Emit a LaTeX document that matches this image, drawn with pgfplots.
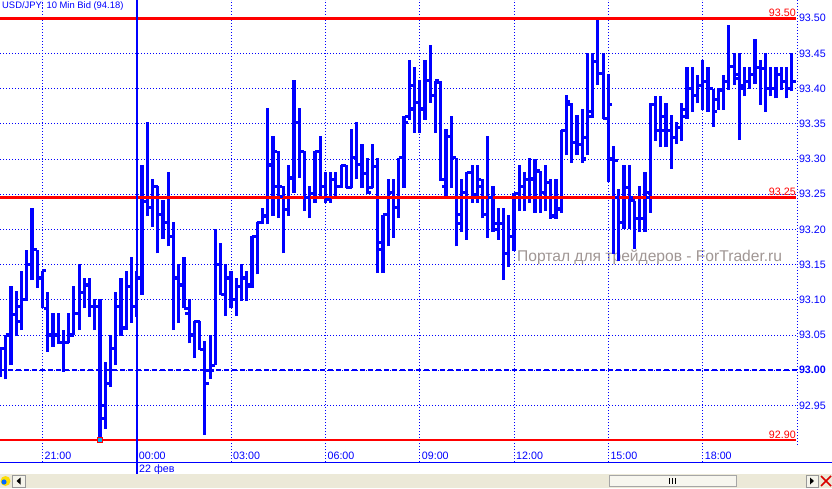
\documentclass[border=0pt]{standalone}
\usepackage{fontspec}
\setmainfont{Liberation Sans}
\usepackage{pgfplots}
\usepackage{pgfplotstable}
\pgfplotsset{compat=1.18}
\definecolor{cblue}{RGB}{0,0,255}
\definecolor{cred}{RGB}{255,0,0}
\definecolor{cwm}{RGB}{160,150,148}
\definecolor{xpgray}{RGB}{236,233,216}

% open tick (left) and close tick (right) of an OHLC bar
\pgfdeclareplotmark{otick}{\pgfpathmoveto{\pgfqpoint{-3.9pt}{0pt}}\pgfpathlineto{\pgfqpoint{0pt}{0pt}}\pgfusepathqstroke}
\pgfdeclareplotmark{ctick}{\pgfpathmoveto{\pgfqpoint{0pt}{0pt}}\pgfpathlineto{\pgfqpoint{3.9pt}{0pt}}\pgfusepathqstroke}

% 10 min bars, k = bar number (k=8 is 21:00, k=26 is 00:00)
\pgfplotstableread{
k o h l c
0 93.015 93.031 92.990 93.031
1 93.031 93.050 92.987 93.050
2 93.050 93.119 93.007 93.079
3 93.079 93.112 93.048 93.090
4 93.069 93.141 93.057 93.100
5 93.100 93.171 93.098 93.150
6 93.150 93.231 93.128 93.171
7 93.171 93.171 93.117 93.131
8 93.131 93.141 93.088 93.141
9 93.088 93.111 93.026 93.050
10 93.050 93.081 93.033 93.050
11 93.050 93.081 93.037 93.039
12 93.039 93.057 92.998 93.039
13 93.039 93.081 93.039 93.050
14 93.050 93.119 93.050 93.081
15 93.081 93.151 93.057 93.111
16 93.111 93.131 93.088 93.121
17 93.121 93.131 93.076 93.090
18 93.090 93.101 93.057 93.090
19 93.090 93.101 92.903 92.931
20 92.950 93.012 92.917 92.981
21 92.981 93.050 92.976 93.031
22 93.031 93.111 93.007 93.090
23 93.090 93.131 93.048 93.060
24 93.060 93.141 93.057 93.119
25 93.119 93.161 93.067 93.090
26 93.090 93.141 93.076 93.131
27 93.131 93.292 93.107 93.240
28 93.240 93.352 93.219 93.231
29 93.231 93.272 93.204 93.261
30 93.261 93.261 93.166 93.221
31 93.221 93.242 93.187 93.210
32 93.210 93.282 93.176 93.190
33 93.190 93.210 93.057 93.131
34 93.131 93.151 93.067 93.121
35 93.121 93.161 93.088 93.088
36 93.081 93.101 93.038 93.050
37 93.050 93.070 93.017 93.069
38 93.069 93.070 93.029 93.029
39 93.029 93.041 92.908 92.981
40 93.000 93.050 92.987 93.000
41 93.007 93.201 93.007 93.150
42 93.150 93.181 93.107 93.107
43 93.107 93.151 93.077 93.131
44 93.131 93.141 93.088 93.100
45 93.100 93.131 93.077 93.119
46 93.119 93.151 93.098 93.131
47 93.131 93.141 93.098 93.121
48 93.119 93.190 93.117 93.190
49 93.190 93.210 93.136 93.210
50 93.210 93.231 93.207 93.219
51 93.219 93.372 93.207 93.292
52 93.291 93.332 93.219 93.311
53 93.261 93.311 93.216 93.261
54 93.247 93.261 93.166 93.228
55 93.228 93.291 93.219 93.273
56 93.273 93.412 93.252 93.352
57 93.352 93.372 93.273 93.311
58 93.311 93.311 93.226 93.245
59 93.245 93.261 93.216 93.251
60 93.251 93.311 93.238 93.311
61 93.311 93.332 93.247 93.261
62 93.261 93.281 93.238 93.242
63 93.242 93.281 93.238 93.271
64 93.271 93.281 93.247 93.261
65 93.261 93.291 93.259 93.291
66 93.291 93.291 93.259 93.259
67 93.259 93.342 93.259 93.302
68 93.302 93.352 93.271 93.292
69 93.292 93.322 93.259 93.280
70 93.280 93.302 93.250 93.252
71 93.259 93.322 93.259 93.290
72 93.290 93.302 93.138 93.181
73 93.171 93.221 93.138 93.221
74 93.221 93.271 93.176 93.252
75 93.252 93.271 93.188 93.231
76 93.231 93.302 93.216 93.302
77 93.302 93.361 93.259 93.352
78 93.361 93.441 93.356 93.404
79 93.371 93.431 93.337 93.380
80 93.380 93.412 93.337 93.371
81 93.371 93.441 93.356 93.411
82 93.411 93.462 93.380 93.390
83 93.390 93.411 93.337 93.411
84 93.409 93.411 93.269 93.271
85 93.261 93.342 93.247 93.332
86 93.332 93.361 93.259 93.302
87 93.302 93.302 93.176 93.209
88 93.221 93.271 93.197 93.252
89 93.252 93.281 93.185 93.281
90 93.281 93.291 93.238 93.250
91 93.250 93.291 93.238 93.271
92 93.261 93.271 93.216 93.221
93 93.221 93.332 93.188 93.245
94 93.245 93.261 93.197 93.200
95 93.209 93.231 93.185 93.209
96 93.209 93.231 93.128 93.166
97 93.166 93.221 93.147 93.190
98 93.190 93.252 93.169 93.251
99 93.251 93.291 93.226 93.261
100 93.261 93.281 93.226 93.271
101 93.271 93.302 93.238 93.271
102 93.272 93.300 93.224 93.283
103 93.283 93.283 93.224 93.253
104 93.253 93.291 93.226 93.267
105 93.267 93.272 93.215 93.219
106 93.219 93.272 93.215 93.229
107 93.229 93.341 93.224 93.340
108 93.340 93.391 93.305 93.382
109 93.378 93.380 93.295 93.324
110 93.324 93.362 93.305 93.321
111 93.321 93.371 93.295 93.300
112 93.330 93.450 93.305 93.360
113 93.367 93.450 93.358 93.438
114 93.438 93.500 93.405 93.422
115 93.422 93.450 93.357 93.358
116 93.358 93.421 93.267 93.378
117 93.300 93.319 93.165 93.298
118 93.245 93.257 93.155 93.210
119 93.210 93.291 93.200 93.260
120 93.260 93.291 93.200 93.245
121 93.241 93.241 93.172 93.215
122 93.215 93.262 93.196 93.215
123 93.215 93.281 93.196 93.253
124 93.245 93.380 93.224 93.378
125 93.378 93.390 93.326 93.340
126 93.340 93.390 93.317 93.360
127 93.340 93.380 93.317 93.340
128 93.340 93.362 93.286 93.330
129 93.330 93.352 93.321 93.345
130 93.345 93.380 93.326 93.370
131 93.360 93.431 93.357 93.400
132 93.400 93.431 93.367 93.390
133 93.390 93.419 93.379 93.405
134 93.405 93.441 93.370 93.410
135 93.410 93.431 93.367 93.400
136 93.400 93.400 93.346 93.367
137 93.385 93.400 93.370 93.398
138 93.398 93.419 93.370 93.410
139 93.410 93.490 93.398 93.431
140 93.431 93.450 93.405 93.415
141 93.420 93.450 93.327 93.400
142 93.405 93.431 93.389 93.410
143 93.410 93.431 93.400 93.420
144 93.420 93.470 93.407 93.430
145 93.430 93.441 93.377 93.429
146 93.429 93.450 93.367 93.400
147 93.400 93.431 93.389 93.400
148 93.400 93.431 93.386 93.420
149 93.420 93.431 93.398 93.410
150 93.410 93.431 93.386 93.400
151 93.400 93.450 93.396 93.410
}\bars

\newcommand\lab{\fontsize{10.7pt}{12pt}\selectfont}

\begin{document}
\begin{tikzpicture}
\fill[white] (0pt,0pt) rectangle (832pt,488pt);
\path[use as bounding box] (0pt,0pt) rectangle (832pt,488pt);

% watermark behind the bars
\node[anchor=base west, inner sep=0pt, text=cwm, font=\fontsize{15.6pt}{18pt}\selectfont]
  at (517pt,227pt) {Портал для трейдеров - ForTrader.ru};

\begin{axis}[
    at={(0pt,26pt)}, anchor=south west,
    scale only axis, width=797pt, height=462pt,
    xmin=-0.0954, xmax=152.0,
    ymin=92.8696, ymax=93.5259,
    axis line style={draw=none},
    major tick length=0pt,
    xtick={8,26,44,62,80,98,116,134}, xticklabels={},
    ytick={92.95,93,93.05,93.1,93.15,93.2,93.25,93.3,93.35,93.4,93.45,93.5},
    yticklabels={92.95,{\textbf{93.00}},93.05,93.10,93.15,93.20,93.25,93.30,93.35,93.40,93.45,93.50},
    yticklabel pos=right,
    yticklabel style={anchor=west, inner sep=0pt, xshift=1.8pt, font=\lab, text=cblue},
    grid=major,
    major grid style={cblue, line width=1pt, dash pattern=on 1pt off 2pt},
    clip=false,
]
% high-low
\addplot[cblue, line width=3.2pt, quiver={u=0, v=\thisrow{h}-\thisrow{l}}] table[x=k, y=l] {\bars};
% open and close
\addplot[cblue, only marks, mark=otick, line width=3.1pt] table[x=k, y=o] {\bars};
\addplot[cblue, only marks, mark=ctick, line width=3.1pt] table[x=k, y=c] {\bars};

% levels
\addplot[cred, line width=2.6pt] coordinates {(-0.0954,93.5) (151.8,93.5)};
\addplot[cred, line width=2.6pt] coordinates {(-0.0954,93.245) (151.8,93.245)};
\addplot[cred, line width=2.6pt] coordinates {(-0.0954,92.901) (151.8,92.901)};
\addplot[cblue, line width=2.5pt, dash pattern=on 5pt off 3pt] coordinates {(-0.0954,93.0) (152,93.0)};

% low marker
\addplot[only marks, mark=square*, mark size=2.3pt, mark options={fill=cyan, draw=cred, line width=0.9pt}] coordinates {(19,92.901)};

\node[anchor=base east, inner sep=0pt, text=cred, font=\lab, yshift=1.6pt] at (axis cs:151.8,93.5) {93.50};
\node[anchor=base east, inner sep=0pt, text=cred, font=\lab, yshift=1.8pt] at (axis cs:151.8,93.245) {93.25};
\node[anchor=base east, inner sep=0pt, text=cred, font=\lab, yshift=1.6pt] at (axis cs:151.8,92.901) {92.90};

\draw[cblue, line width=1pt, dash pattern=on 1pt off 2pt] (axis cs:152,93.5259) -- (axis cs:152,92.891);
\end{axis}

% day separator
\draw[cblue, line width=1.1pt] (137pt,488pt) -- (137pt,14pt);
% time axis
\draw[cblue, line width=1.1pt] (0pt,25.5pt) -- (832pt,25.5pt);
\foreach \px/\t in {44.4/21:00, 138.7/00:00, 233/03:00, 327.4/06:00, 421.7/09:00, 516/12:00, 610.3/15:00, 704.7/18:00}
  \node[anchor=base west, inner sep=0pt, text=cblue, font=\lab] at (\px pt,29pt) {\t};
\node[anchor=base west, inner sep=0pt, text=cblue, font=\lab] at (139pt,15.3pt) {22 фев};

% title
\node[anchor=base west, inner sep=0pt, text=cblue, font=\fontsize{9.4pt}{10pt}\selectfont] at (2pt,479.5pt) {USD/JPY: 10 Min Bid (94.18)};

% scroll bar
\fill[xpgray] (0pt,0pt) rectangle (832pt,14pt);
\draw[fill=xpgray!40!white, draw=black!35, line width=0.8pt] (609pt,1.5pt) rectangle (736pt,13pt);
\foreach \gx in {669.5,672.5,675.5}
  \draw[black, line width=1.4pt] (\gx pt,4.5pt) -- (\gx pt,10pt);
\draw[fill=xpgray!50!white, draw=black!40, line width=0.6pt] (12.5pt,1pt) rectangle (25pt,13pt);
\fill[black] (20.5pt,3.5pt) -- (16.5pt,7pt) -- (20.5pt,10.5pt) -- cycle;
\draw[fill=xpgray!50!white, draw=black!40, line width=0.6pt] (806pt,1pt) rectangle (818pt,13pt);
\fill[black] (810pt,3.5pt) -- (814pt,7pt) -- (810pt,10.5pt) -- cycle;
\draw[red!85!black, line width=1.5pt] (821pt,2pt) -- (831pt,12pt) (821pt,12pt) -- (831pt,2pt);
\fill[yellow!80!orange] (5.5pt,7pt) circle (5pt);
\fill[blue!60!cyan] (4pt,6pt) circle (2.6pt);
\end{tikzpicture}
\end{document}
